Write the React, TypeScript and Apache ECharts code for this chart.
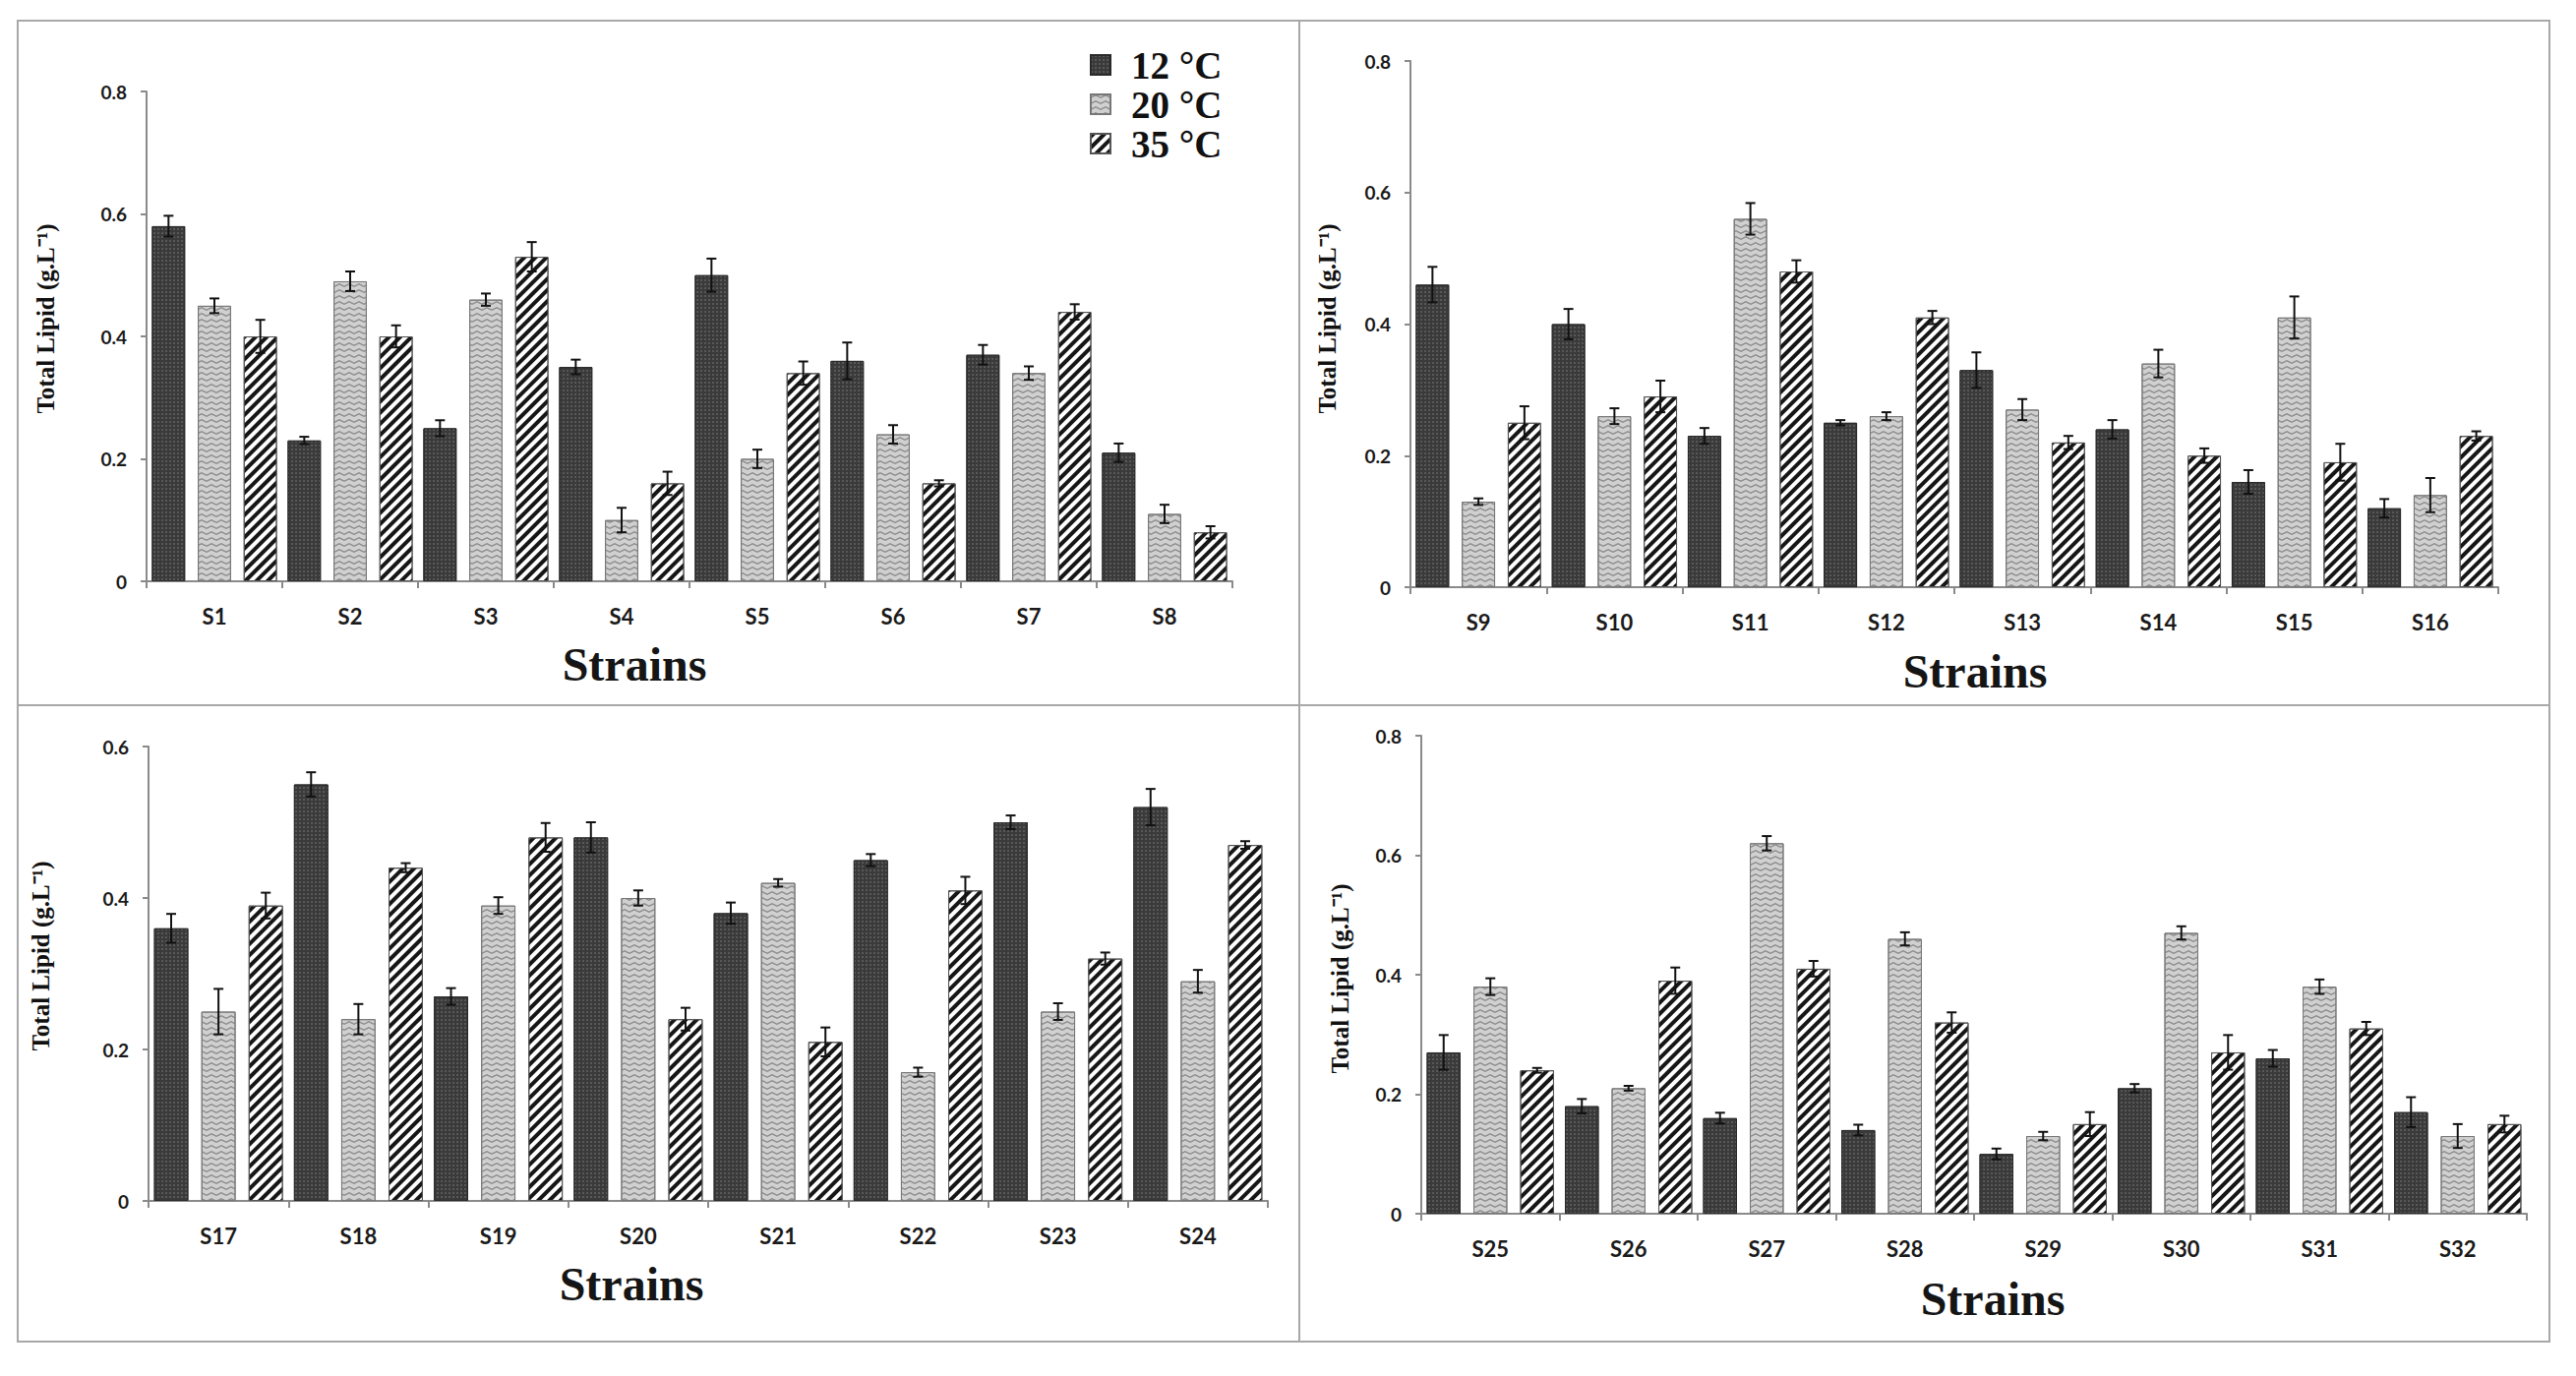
import React, { useEffect, useRef } from "react";
import * as echarts from "echarts";

const strains = [
  "S1", "S2", "S3", "S4", "S5", "S6", "S7", "S8",
  "S9", "S10", "S11", "S12", "S13", "S14", "S15", "S16",
  "S17", "S18", "S19", "S20", "S21", "S22", "S23", "S24",
  "S25", "S26", "S27", "S28", "S29", "S30", "S31", "S32",
];
const temps = ["12 °C", "20 °C", "35 °C"];

const lipid12 = [0.58, 0.23, 0.25, 0.35, 0.5, 0.36, 0.37, 0.21, 0.46, 0.4, 0.23, 0.25, 0.33, 0.24, 0.16, 0.12, 0.36, 0.55, 0.27, 0.48, 0.38, 0.45, 0.5, 0.52, 0.27, 0.18, 0.16, 0.14, 0.1, 0.21, 0.26, 0.17];
const lipid20 = [0.45, 0.49, 0.46, 0.1, 0.2, 0.24, 0.34, 0.11, 0.13, 0.26, 0.56, 0.26, 0.27, 0.34, 0.41, 0.14, 0.25, 0.24, 0.39, 0.4, 0.42, 0.17, 0.25, 0.29, 0.38, 0.21, 0.62, 0.46, 0.13, 0.47, 0.38, 0.13];
const lipid35 = [0.4, 0.4, 0.53, 0.16, 0.34, 0.16, 0.44, 0.08, 0.25, 0.29, 0.48, 0.41, 0.22, 0.2, 0.19, 0.23, 0.39, 0.44, 0.48, 0.24, 0.21, 0.41, 0.32, 0.47, 0.24, 0.39, 0.41, 0.32, 0.15, 0.27, 0.31, 0.15];
const err12 = [0.017, 0.006, 0.013, 0.012, 0.027, 0.03, 0.016, 0.015, 0.027, 0.023, 0.012, 0.004, 0.027, 0.014, 0.018, 0.014, 0.019, 0.016, 0.011, 0.02, 0.014, 0.008, 0.009, 0.024, 0.029, 0.012, 0.009, 0.009, 0.009, 0.007, 0.014, 0.025];
const err20 = [0.012, 0.016, 0.01, 0.02, 0.015, 0.015, 0.011, 0.015, 0.005, 0.012, 0.024, 0.006, 0.016, 0.021, 0.032, 0.026, 0.03, 0.02, 0.011, 0.01, 0.005, 0.006, 0.011, 0.015, 0.014, 0.004, 0.012, 0.011, 0.007, 0.011, 0.012, 0.02];
const err35 = [0.027, 0.018, 0.024, 0.019, 0.019, 0.005, 0.0125, 0.01, 0.025, 0.024, 0.017, 0.01, 0.01, 0.011, 0.028, 0.007, 0.017, 0.006, 0.019, 0.015, 0.019, 0.018, 0.008, 0.005, 0.004, 0.022, 0.013, 0.017, 0.02, 0.029, 0.011, 0.014];
const panelMax = [0.8, 0.8, 0.6, 0.8];
const yTitle = "Total Lipid (g.L⁻¹)";
const xTitle = "Strains";

// layout (pixels)
const grids = [
  { left: 149, top: 93, width: 1104, height: 498 },
  { left: 1434, top: 62, width: 1106, height: 535 },
  { left: 151, top: 759, width: 1138, height: 462 },
  { left: 1445, top: 748, width: 1124, height: 486 },
];
const yTitlePos = [
  [46, 324],
  [1349, 324],
  [41, 972],
  [1362, 995],
];
const xTitlePos = [
  [645, 675],
  [2008, 682],
  [642, 1305],
  [2026, 1320],
];

const BAR_W = 0.245;
const BAR_GAP = 0.38;

const styles = [
  {
    color: "#3a3a3a",
    borderColor: "#2a2a2a",
    borderWidth: 1,
    decal: {
      symbol: "circle",
      symbolSize: 0.7,
      color: "#858585",
      backgroundColor: "#363636",
      dashArrayX: [2, 2],
      dashArrayY: [2, 2],
      rotation: 0,
    },
  },
  {
    color: "#d0d0d0",
    borderColor: "#777",
    borderWidth: 1,
    decal: {
      symbol: "path://M0,6 L5,0 L10,6 L10,10 L5,4 L0,10 Z",
      symbolSize: 1,
      symbolKeepAspect: false,
      color: "#8a8a8a",
      backgroundColor: "#f4f4f4",
      dashArrayX: [10, 0],
      dashArrayY: [4, 1.5],
      rotation: 0,
    },
  },
  {
    color: "#ffffff",
    borderColor: "#555",
    borderWidth: 1,
    decal: {
      symbol: "rect",
      symbolSize: 1,
      color: "#161616",
      backgroundColor: "#ffffff",
      dashArrayX: [1, 0],
      dashArrayY: [4, 4],
      rotation: -Math.PI / 4,
    },
  },
];

export default function App() {
  const ref = useRef<HTMLDivElement>(null);

  useEffect(() => {
    if (!ref.current) return;
    const chart = echarts.init(ref.current, undefined, { renderer: "svg" });
    const valueSets = [lipid12, lipid20, lipid35];
    const errSets = [err12, err20, err35];

    const xAxis: any[] = [];
    const yAxis: any[] = [];
    const series: any[] = [];
    const graphic: any[] = [];

    for (let p = 0; p < 4; p++) {
      const cats = strains.slice(p * 8, p * 8 + 8);
      xAxis.push({
        type: "category",
        gridIndex: p,
        data: cats,
        boundaryGap: true,
        axisLine: { show: true, lineStyle: { color: "#8a8a8a", width: 2 } },
        axisTick: { show: true, length: 7, interval: 0, lineStyle: { color: "#8a8a8a", width: 2 } },
        axisLabel: {
          interval: 0,
          margin: 24,
          color: "#1a1a1a",
          fontFamily: "Lato",
          fontWeight: "bold",
          fontSize: 22,
        },
        splitLine: { show: false },
      });
      yAxis.push({
        type: "value",
        gridIndex: p,
        min: 0,
        max: panelMax[p],
        interval: 0.2,
        axisLine: { show: true, lineStyle: { color: "#8a8a8a", width: 2 } },
        axisTick: { show: true, length: 6, lineStyle: { color: "#8a8a8a", width: 2 } },
        axisLabel: {
          margin: 20,
          color: "#1a1a1a",
          fontFamily: "Lato",
          fontWeight: "bold",
          fontSize: 19,
        },
        splitLine: { show: false },
      });
      for (let t = 0; t < 3; t++) {
        series.push({
          type: "bar",
          name: temps[t],
          xAxisIndex: p,
          yAxisIndex: p,
          data: valueSets[t].slice(p * 8, p * 8 + 8),
          barWidth: BAR_W * 100 + "%",
          barGap: BAR_GAP * 100 + "%",
          itemStyle: styles[t],
          emphasis: { disabled: true },
        });
      }
      const errData: any[] = [];
      for (let i = 0; i < 8; i++) {
        for (let t = 0; t < 3; t++) {
          errData.push([i, valueSets[t][p * 8 + i], errSets[t][p * 8 + i], t]);
        }
      }
      series.push({
        type: "custom",
        name: "err" + p,
        xAxisIndex: p,
        yAxisIndex: p,
        z: 5,
        silent: true,
        encode: { x: 0, y: 1 },
        data: errData,
        renderItem: (params: any, api: any) => {
          const i = api.value(0);
          const v = api.value(1);
          const e = api.value(2);
          const slot = api.value(3);
          const band = api.size([1, 0])[0];
          const bw = band * BAR_W;
          const off = (slot - 1) * bw * (1 + BAR_GAP);
          const c = api.coord([i, v]);
          const hi = api.coord([i, v + e]);
          const lo = api.coord([i, v - e]);
          const x = c[0] + off;
          const cap = 5;
          const st = { stroke: "#111", lineWidth: 2 };
          return {
            type: "group",
            children: [
              { type: "line", shape: { x1: x, y1: hi[1], x2: x, y2: lo[1] }, style: st },
              { type: "line", shape: { x1: x - cap, y1: hi[1], x2: x + cap, y2: hi[1] }, style: st },
              { type: "line", shape: { x1: x - cap, y1: lo[1], x2: x + cap, y2: lo[1] }, style: st },
            ],
          };
        },
      });
      graphic.push({
        type: "text",
        x: yTitlePos[p][0],
        y: yTitlePos[p][1],
        rotation: Math.PI / 2,
        style: {
          text: yTitle,
          fontFamily: "Liberation Serif",
          fontWeight: "bold",
          fontSize: 25,
          fill: "#111",
          align: "center",
          verticalAlign: "middle",
        },
      });
      graphic.push({
        type: "text",
        x: xTitlePos[p][0],
        y: xTitlePos[p][1],
        style: {
          text: xTitle,
          fontFamily: "Liberation Serif",
          fontWeight: "bold",
          fontSize: 48,
          fill: "#151515",
          align: "center",
          verticalAlign: "middle",
        },
      });
    }

    // frame lines
    const frame = { stroke: "#a8a8a8", lineWidth: 2 };
    graphic.push({ type: "rect", shape: { x: 18, y: 21, width: 2574, height: 1343 }, style: { ...frame, fill: "none" }, z: -1 });
    graphic.push({ type: "line", shape: { x1: 1321, y1: 21, x2: 1321, y2: 1364 }, style: frame, z: -1 });
    graphic.push({ type: "line", shape: { x1: 18, y1: 717, x2: 2592, y2: 717 }, style: frame, z: -1 });

    chart.setOption({
      animation: false,
      backgroundColor: "#ffffff",
      grid: grids.map((g) => ({ ...g, containLabel: false })),
      xAxis,
      yAxis,
      series,
      graphic,
      legend: {
        data: temps,
        orient: "vertical",
        left: 1108,
        top: 46,
        padding: 0,
        itemGap: 0,
        itemWidth: 20,
        itemHeight: 20,
        icon: "rect",
        selectedMode: false,
        textStyle: {
          fontFamily: "Liberation Serif",
          fontWeight: "bold",
          fontSize: 39,
          lineHeight: 40,
          color: "#111",
          padding: [0, 0, 0, 16],
        },
      },
    });

    return () => chart.dispose();
  }, []);

  return (
    <div
      ref={ref}
      style={{ position: "fixed", left: 0, top: 0, width: 2619, height: 1399, background: "#fff" }}
    />
  );
}
